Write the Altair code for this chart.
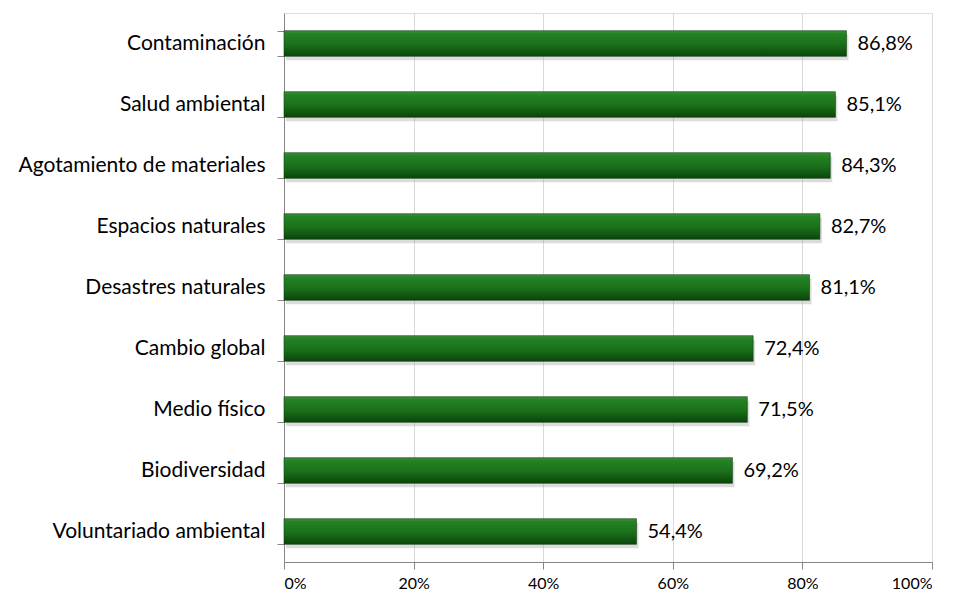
import altair as alt
import pandas as pd

categories = ["Contaminación", "Salud ambiental", "Agotamiento de materiales",
              "Espacios naturales", "Desastres naturales", "Cambio global",
              "Medio físico", "Biodiversidad", "Voluntariado ambiental"]
values = [86.8, 85.1, 84.3, 82.7, 81.1, 72.4, 71.5, 69.2, 54.4]
labels = ["86,8%", "85,1%", "84,3%", "82,7%", "81,1%", "72,4%", "71,5%", "69,2%", "54,4%"]

df = pd.DataFrame({"cat": categories, "val": values, "lab": labels})

FONT = "Lato"

x = alt.X("val:Q", scale=alt.Scale(domain=[0, 100]),
          axis=alt.Axis(values=[0, 20, 40, 60, 80, 100], labelExpr="datum.value + '%'",
                        title=None, grid=True, gridColor="#d9d9d9", domainColor="#868686",
                        tickColor="#868686", tickSize=7, labelFontSize=16, labelFont=FONT,
                        labelColor="#000000", labelPadding=6))
y = alt.Y("cat:N", sort=categories,
          scale=alt.Scale(paddingInner=0.58, paddingOuter=0.29),
          axis=alt.Axis(title=None, tickBand="extent", tickSize=7, tickColor="#868686",
                        domainColor="#868686", labelFontSize=21, labelFont=FONT,
                        labelColor="#000000", labelPadding=12, labelLimit=0, grid=False))

grad = alt.Gradient(gradient="linear", x1=0, x2=0, y1=0, y2=1,
                    stops=[alt.GradientStop(color="#3f8f3f", offset=0),
                           alt.GradientStop(color="#248224", offset=0.12),
                           alt.GradientStop(color="#1a701a", offset=0.55),
                           alt.GradientStop(color="#0b440b", offset=1)])

base = alt.Chart(df)
shadow = base.mark_bar(color="#9a9a9a", opacity=0.35, yOffset=4, xOffset=2).encode(x=x, y=y)
bars = base.mark_bar(color=grad, stroke="#0f3f0f", strokeWidth=0.6).encode(x=x, y=y)
text = base.mark_text(align="left", dx=11, fontSize=20, font=FONT, color="#000000").encode(
    x="val:Q", y=alt.Y("cat:N", sort=categories), text="lab:N")

chart = alt.layer(shadow, bars, text).properties(
    width=648, height=549,
    autosize=alt.AutoSizeParams(type="none"),
    padding={"left": 284, "top": 13, "right": 24, "bottom": 35},
).configure_view(stroke=None).configure(background="white")

chart.save("out.html", embed_options={"renderer": "svg", "actions": False})
